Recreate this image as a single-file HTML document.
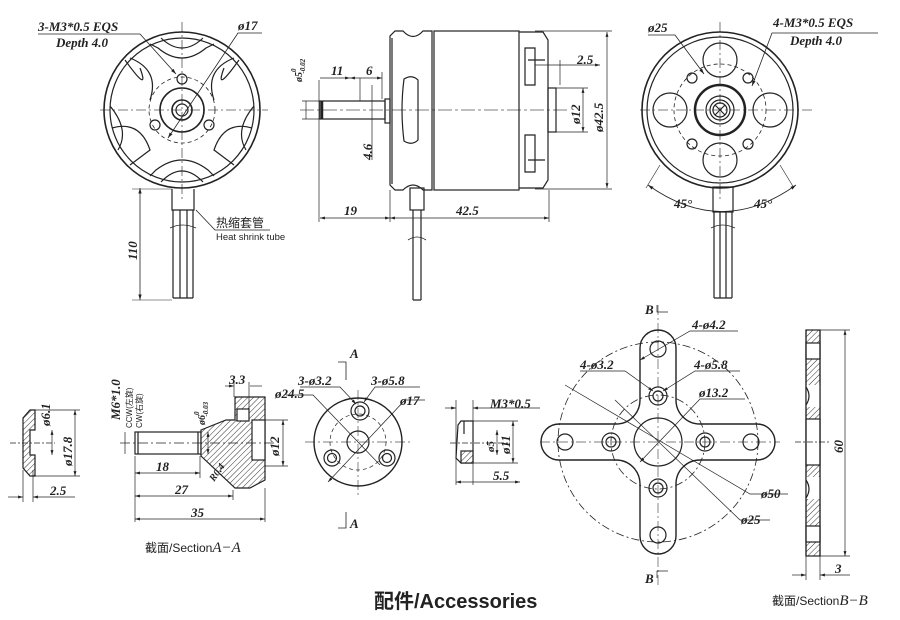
<!DOCTYPE html>
<html><head><meta charset="utf-8"><style>
html,body{margin:0;padding:0;background:#fff}
svg{display:block}
text{font-family:"Liberation Serif",serif;font-style:italic;font-size:13px;font-weight:bold;fill:#222}
.s{font-family:"Liberation Sans","Noto Sans CJK SC",sans-serif;font-style:normal;font-weight:normal}
</style></head><body>
<svg width="900" height="620" viewBox="0 0 900 620" xmlns="http://www.w3.org/2000/svg">
<defs>
<pattern id="h" width="4" height="4" patternUnits="userSpaceOnUse" patternTransform="rotate(45)">
<rect width="4" height="4" fill="#fff"/><line x1="0" y1="0" x2="0" y2="4" stroke="#333" stroke-width="1"/></pattern>
<marker id="a" viewBox="0 0 10 10" refX="10" refY="5" markerWidth="7" markerHeight="7" orient="auto-start-reverse"><path d="M0,2 L10,5 L0,8 z" fill="#222"/></marker>
</defs>
<g fill="none" stroke="#222" stroke-width="1.2">
<!-- LEFT TOP VIEW -->
<g stroke-width="0.8" stroke="#555" stroke-dasharray="10 3 2 3"><line x1="100" y1="110" x2="268" y2="110"/><line x1="182" y1="22" x2="182" y2="200"/></g>
<circle cx="182" cy="110" r="78" stroke-width="1.6"/>
<circle cx="182" cy="110" r="72"/>
<path d="M161 38 Q182 58 203 38 M161 182 Q182 160 203 182 M110 106 Q130 130 118 150 M254 106 Q234 130 246 150 M125 60 Q150 95 140 68 M239 60 Q214 95 224 68"/>
<path d="M150 44 L158 48 Q182 68 206 48 L214 44 M150 176 L156 170 Q182 150 208 170 L214 176"/>
<path d="M112 128 Q140 120 150 150 L130 165 M252 128 Q224 120 214 150 L234 165"/>
<path d="M130 58 Q160 70 150 100 M234 58 Q204 70 214 100"/>
<circle cx="182" cy="110" r="33" stroke-dasharray="4 3" stroke-width="0.8"/>
<circle cx="182" cy="110" r="22" stroke-width="1.6"/>
<circle cx="182" cy="110" r="10" stroke-width="1.6"/>
<circle cx="182" cy="110" r="6"/>
<circle cx="182" cy="79" r="5"/><circle cx="155" cy="125" r="5"/><circle cx="209" cy="125" r="5"/>
<path d="M172 189 L172 210 L194 210 L194 189"/>
<path d="M173 210 V298 M180 210 V298 M187 210 V298 M193 210 V298 M173 298 H193"/>
<path d="M170 228 Q182 222 196 228" stroke-width="0.8"/>
<line x1="140" y1="188" x2="140" y2="300" marker-start="url(#a)" marker-end="url(#a)" stroke-width="0.8"/>
<line x1="132" y1="189" x2="172" y2="189" stroke-width="0.6"/><line x1="132" y1="300" x2="172" y2="300" stroke-width="0.6"/>
<path d="M38 34 H140 L176 74" stroke-width="0.8" marker-end="url(#a)"/>
<path d="M262 33 H238 L168 138" stroke-width="0.8" marker-end="url(#a)"/>
<path d="M196 210 L215 230 H270" stroke-width="0.8"/>
<!-- SIDE VIEW -->
<line x1="300" y1="110" x2="570" y2="110" stroke-width="0.8" stroke="#555" stroke-dasharray="14 3 3 3"/>
<path d="M395 31 H403 Q413 42 423 31 H432 V190 H423 Q413 180 403 190 H395 L390 185 V36 Z"/>
<line x1="392" y1="38" x2="392" y2="184"/>
<rect x="434" y="31" width="85" height="159"/>
<path d="M519 32 H543 L548 40 V180 L543 188 H519"/>
<path d="M525 48 H535 V85 H525 Z M525 135 H535 V172 H525 Z M528 60 H545 M528 160 H545"/>
<rect x="548" y="88" width="8" height="44"/>
<path d="M404 79 Q412 74 418 80 V140 Q412 146 404 141 Q400 110 404 79 Z"/>
<rect x="385" y="99" width="5" height="24"/>
<rect x="320" y="101" width="65" height="18"/>
<line x1="322" y1="101" x2="322" y2="119" stroke-width="2.5"/>
<rect x="410" y="188" width="14" height="22"/>
<path d="M413 210 V300 M421 210 V300 M413 300 H421"/>
<path d="M408 240 Q417 234 426 240" stroke-width="0.8"/>
<g stroke-width="0.7">
<line x1="320" y1="218" x2="390" y2="218" marker-start="url(#a)" marker-end="url(#a)"/>
<line x1="390" y1="218" x2="549" y2="218" marker-start="url(#a)" marker-end="url(#a)"/>
<line x1="319" y1="80" x2="319" y2="222"/><line x1="390" y1="190" x2="390" y2="222"/><line x1="549" y1="190" x2="549" y2="222"/>
<line x1="607" y1="32" x2="607" y2="188" marker-start="url(#a)" marker-end="url(#a)"/>
<line x1="535" y1="31" x2="612" y2="31"/><line x1="535" y1="189" x2="612" y2="189"/>
<line x1="583" y1="88" x2="583" y2="132" marker-start="url(#a)" marker-end="url(#a)"/>
<line x1="556" y1="88" x2="588" y2="88"/><line x1="556" y1="132" x2="588" y2="132"/>
<line x1="535" y1="65" x2="600" y2="65" marker-end="url(#a)"/><line x1="560" y1="60" x2="560" y2="85"/>
<line x1="320" y1="78" x2="350" y2="78" marker-end="url(#a)"/><line x1="350" y1="78" x2="382" y2="78" marker-start="url(#a)" marker-end="url(#a)"/>
<line x1="360" y1="78" x2="360" y2="101"/><line x1="382" y1="72" x2="382" y2="99"/>
<line x1="306" y1="101" x2="306" y2="119"/><line x1="302" y1="101" x2="320" y2="101"/><line x1="302" y1="119" x2="320" y2="119"/>
<line x1="372" y1="85" x2="372" y2="160"/>
</g>
<!-- RIGHT TOP VIEW -->
<g stroke-width="0.8" stroke="#555" stroke-dasharray="10 3 2 3"><line x1="640" y1="110" x2="812" y2="110"/><line x1="720" y1="22" x2="720" y2="200"/></g>
<circle cx="720" cy="110" r="78" stroke-width="1.6"/>
<circle cx="720" cy="110" r="73"/>
<circle cx="720" cy="110" r="46" stroke-dasharray="4 3" stroke-width="0.8"/>
<circle cx="720" cy="60" r="17"/><circle cx="720" cy="160" r="17"/><circle cx="670" cy="110" r="17"/><circle cx="770" cy="110" r="17"/>
<circle cx="720" cy="110" r="25" stroke-width="2.5"/>
<circle cx="720" cy="110" r="14"/><circle cx="720" cy="110" r="10"/><circle cx="720" cy="110" r="7"/>
<path d="M715 105 L725 115 M725 105 L715 115"/>
<circle cx="692" cy="78" r="5"/><circle cx="748" cy="78" r="5"/><circle cx="692" cy="144" r="5"/><circle cx="748" cy="144" r="5"/>
<rect x="713" y="187" width="20" height="25"/>
<path d="M714 212 V298 M720 212 V298 M726 212 V298 M732 212 V298 M714 298 H732"/>
<path d="M711 228 Q722 222 735 228" stroke-width="0.8"/>
<path d="M648 185 Q722 238 796 185" stroke-width="0.8" marker-start="url(#a)" marker-end="url(#a)"/>
<line x1="660" y1="165" x2="646" y2="188" stroke-width="0.6"/><line x1="780" y1="165" x2="794" y2="188" stroke-width="0.6"/>
<path d="M648 35 H675 L704 74" stroke-width="0.8" marker-end="url(#a)"/>
<path d="M878 33 H772 L752 86" stroke-width="0.8" marker-end="url(#a)"/>
<!-- WASHER -->
<path d="M23 418 L30 410 H35 V430 H30 V455 H35 V476 H30 L23 468 Z" fill="url(#h)"/>
<g stroke-width="0.7">
<line x1="10" y1="443" x2="55" y2="443" stroke-dasharray="6 2 2 2"/>
<line x1="52" y1="430" x2="52" y2="455" marker-start="url(#a)" marker-end="url(#a)"/>
<line x1="75" y1="410" x2="75" y2="476" marker-start="url(#a)" marker-end="url(#a)"/>
<line x1="35" y1="410" x2="80" y2="410"/><line x1="35" y1="476" x2="80" y2="476"/>
<line x1="23" y1="470" x2="23" y2="502"/><line x1="33" y1="470" x2="33" y2="502"/>
<line x1="8" y1="497" x2="23" y2="497" marker-end="url(#a)"/><line x1="33" y1="497" x2="75" y2="497" marker-start="url(#a)"/>
</g>
<!-- ADAPTER -->
<rect x="135" y="432" width="66" height="22"/>
<line x1="138" y1="432" x2="138" y2="454"/><line x1="198" y1="432" x2="198" y2="454"/>
<path d="M201 430 L226 420 H235 V397 H265 V480 L250 488 H235 L201 456 Z" fill="url(#h)"/>
<rect x="237" y="409" width="12" height="12" fill="#fff"/>
<rect x="252" y="420" width="13" height="40" fill="#fff"/>
<g stroke-width="0.7">
<line x1="120" y1="443" x2="275" y2="443" stroke-dasharray="10 3 2 3"/>
<line x1="135" y1="456" x2="135" y2="522"/><line x1="265" y1="488" x2="265" y2="522"/><line x1="200" y1="456" x2="200" y2="478"/><line x1="233" y1="490" x2="233" y2="500"/>
<line x1="135" y1="473" x2="200" y2="473" marker-start="url(#a)" marker-end="url(#a)"/>
<line x1="135" y1="496" x2="233" y2="496" marker-start="url(#a)" marker-end="url(#a)"/>
<line x1="135" y1="519" x2="265" y2="519" marker-start="url(#a)" marker-end="url(#a)"/>
<line x1="283" y1="420" x2="283" y2="466" marker-start="url(#a)" marker-end="url(#a)"/>
<line x1="265" y1="420" x2="288" y2="420"/><line x1="265" y1="466" x2="288" y2="466"/>
<line x1="208" y1="432" x2="208" y2="454" marker-start="url(#a)" marker-end="url(#a)"/>
<line x1="125" y1="432" x2="125" y2="454"/>
<line x1="225" y1="386" x2="234" y2="386" marker-end="url(#a)"/><line x1="250" y1="386" x2="262" y2="386"/>
<line x1="234" y1="382" x2="234" y2="397"/><line x1="249" y1="382" x2="249" y2="410"/>
</g>
<!-- HUB DISC -->
<g stroke-width="0.7" stroke="#555" stroke-dasharray="10 3 2 3"><line x1="305" y1="442" x2="410" y2="442"/><line x1="358" y1="390" x2="358" y2="495"/></g>
<circle cx="358" cy="442" r="44" stroke-width="1.4"/>
<circle cx="358" cy="442" r="28" stroke-dasharray="4 3" stroke-width="0.7"/>
<circle cx="358" cy="442" r="11"/>
<circle cx="360" cy="411" r="9"/><circle cx="360" cy="411" r="5"/>
<circle cx="332" cy="458" r="8"/><circle cx="332" cy="458" r="4.5"/>
<circle cx="387" cy="458" r="8"/><circle cx="387" cy="458" r="4.5"/>
<path d="M346 380 V362 H338 M346 512 V528 H338" stroke-width="0.8"/>
<g stroke-width="0.7">
<path d="M286 395 H313 L380 465" /><path d="M300 387 H340 L356 404" marker-end="url(#a)"/><path d="M420 387 H375 L364 402" marker-end="url(#a)"/>
<path d="M425 400 H405 L328 482" marker-end="url(#a)"/>
</g>
<!-- NUT -->
<path d="M458 425 L461 421 H473 V463 H461 L456 458 Z"/>
<rect x="461" y="451" width="12" height="12" fill="url(#h)"/>
<line x1="464" y1="421" x2="464" y2="434"/>
<g stroke-width="0.7">
<line x1="450" y1="443" x2="510" y2="443" stroke-dasharray="6 2 2 2"/>
<line x1="473" y1="421" x2="518" y2="421"/><line x1="473" y1="463" x2="518" y2="463"/>
<line x1="513" y1="421" x2="513" y2="463" marker-start="url(#a)" marker-end="url(#a)"/>
<line x1="497" y1="430" x2="497" y2="455" marker-start="url(#a)" marker-end="url(#a)"/>
<line x1="456" y1="400" x2="456" y2="485"/><line x1="473" y1="400" x2="473" y2="485"/>
<line x1="445" y1="408" x2="456" y2="408" marker-end="url(#a)"/><line x1="473" y1="408" x2="540" y2="408" marker-start="url(#a)"/>
<line x1="456" y1="482" x2="520" y2="482" marker-start="url(#a)" marker-end="url(#a)"/>
</g>
<!-- CROSS PLATE -->
<g stroke-width="0.7" stroke="#555" stroke-dasharray="10 3 2 3"><line x1="540" y1="442" x2="780" y2="442"/><line x1="658" y1="305" x2="658" y2="585"/></g>
<circle cx="658" cy="442" r="100" stroke-dasharray="8 3 2 3" stroke-width="0.8"/>
<circle cx="658" cy="442" r="47" stroke-dasharray="8 3 2 3" stroke-width="0.8"/>
<path d="M640 348 A18 18 0 0 1 676 348 V400 A24 24 0 0 0 700 424 H757 A18 18 0 0 1 757 460 H700 A24 24 0 0 0 676 484 V536 A18 18 0 0 1 640 536 V484 A24 24 0 0 0 616 460 H559 A18 18 0 0 1 559 424 H616 A24 24 0 0 0 640 400 Z" stroke-width="1.4"/>
<circle cx="658" cy="442" r="24"/>
<circle cx="658" cy="349" r="8"/><circle cx="658" cy="535" r="8"/><circle cx="565" cy="442" r="8"/><circle cx="751" cy="442" r="8"/>
<circle cx="658" cy="396" r="9"/><circle cx="658" cy="396" r="5"/><circle cx="658" cy="488" r="9"/><circle cx="658" cy="488" r="5"/>
<circle cx="611" cy="442" r="9"/><circle cx="611" cy="442" r="5"/><circle cx="705" cy="442" r="9"/><circle cx="705" cy="442" r="5"/>
<g stroke-width="0.7">
<path d="M738 331 H690 L640 360" marker-end="url(#a)"/>
<path d="M580 371 H625 L653 391" marker-end="url(#a)"/>
<path d="M740 371 H695 L663 391" marker-end="url(#a)"/>
<path d="M745 399 H700 L640 462" marker-end="url(#a)"/>
<path d="M788 494 H750 L565 385"/><path d="M770 520 H740 L615 400"/>
<path d="M657 305 V312 H668 M657 578 V571 H668"/>
</g>
<!-- SECTION B-B -->
<rect x="806" y="330" width="14" height="226" fill="url(#h)"/>
<rect x="806" y="343" width="14" height="16" fill="#fff"/>
<rect x="806" y="385" width="14" height="22" fill="#fff" stroke="none"/><path d="M806 387 Q812 396 806 405"/>
<rect x="806" y="419" width="14" height="46" fill="#fff"/>
<rect x="806" y="477" width="14" height="22" fill="#fff" stroke="none"/><path d="M806 480 Q812 489 806 498"/>
<rect x="806" y="526" width="14" height="16" fill="#fff"/>
<line x1="806" y1="330" x2="806" y2="556"/><line x1="820" y1="330" x2="820" y2="556"/>
<g stroke-width="0.7">
<line x1="795" y1="442" x2="830" y2="442" stroke-dasharray="6 2 2 2"/>
<line x1="820" y1="330" x2="850" y2="330"/><line x1="820" y1="556" x2="850" y2="556"/>
<line x1="845" y1="330" x2="845" y2="556" marker-start="url(#a)" marker-end="url(#a)"/>
<line x1="806" y1="556" x2="806" y2="580"/><line x1="820" y1="556" x2="820" y2="580"/>
<line x1="792" y1="575" x2="806" y2="575" marker-end="url(#a)"/><line x1="820" y1="575" x2="850" y2="575" marker-start="url(#a)"/>
</g>
</g>
<!-- TEXT -->
<text x="38" y="31">3-M3*0.5  EQS</text>
<text x="56" y="47">Depth  4.0</text>
<text x="238" y="30">ø17</text>
<text x="216" y="227" class="s" style="font-size:12px">热缩套管</text>
<text x="216" y="240" class="s" style="font-size:9.5px">Heat shrink tube</text>
<text transform="translate(137,260) rotate(-90)">110</text>
<text transform="translate(302,82) rotate(-90)" style="font-size:10px">ø5<tspan dy="-6" style="font-size:7px">0</tspan><tspan dx="-5" dy="9" style="font-size:7px">-0.02</tspan></text>
<text x="331" y="75">11</text><text x="366" y="75">6</text>
<text transform="translate(372,160) rotate(-90)">4.6</text>
<text x="344" y="215">19</text><text x="456" y="215">42.5</text>
<text x="577" y="64">2.5</text>
<text transform="translate(580,124) rotate(-90)">ø12</text>
<text transform="translate(603,132) rotate(-90)">ø42.5</text>
<text x="648" y="32">ø25</text>
<text x="773" y="27">4-M3*0.5  EQS</text>
<text x="790" y="45">Depth  4.0</text>
<text x="674" y="208">45°</text><text x="754" y="208">45°</text>
<text transform="translate(50,426) rotate(-90)">ø6.1</text>
<text transform="translate(72,466) rotate(-90)">ø17.8</text>
<text x="50" y="495">2.5</text>
<text transform="translate(120,420) rotate(-90)">M6*1.0</text>
<text transform="translate(132,428) rotate(-90)" class="s" style="font-size:8px">CCW(左旋)</text>
<text transform="translate(142,428) rotate(-90)" class="s" style="font-size:8px">CW(右旋)</text>
<text transform="translate(205,425) rotate(-90)" style="font-size:10px">ø6<tspan dy="-6" style="font-size:7px">0</tspan><tspan dx="-5" dy="9" style="font-size:7px">-0.03</tspan></text>
<text x="229" y="384">3.3</text>
<text x="275" y="398">ø24.5</text>
<text transform="translate(279,456) rotate(-90)">ø12</text>
<text transform="translate(214,482) rotate(-55)" style="font-size:10px">R0.4</text>
<text x="156" y="471">18</text><text x="175" y="494">27</text><text x="191" y="517">35</text>
<text x="145" y="552" class="s" style="font-size:12px">截面/Section<tspan style="font-family:'Liberation Serif',serif;font-style:italic;font-size:15px">A−A</tspan></text>
<text x="350" y="358">A</text><text x="350" y="528">A</text>
<text x="298" y="385">3-ø3.2</text><text x="371" y="385">3-ø5.8</text>
<text x="400" y="405">ø17</text>
<text x="490" y="408">M3*0.5</text>
<text transform="translate(494,452) rotate(-90)" style="font-size:11px">ø5</text>
<text transform="translate(510,454) rotate(-90)">ø11</text>
<text x="493" y="480">5.5</text>
<text x="645" y="314">B</text><text x="645" y="583">B</text>
<text x="692" y="329">4-ø4.2</text>
<text x="580" y="369">4-ø3.2</text><text x="694" y="369">4-ø5.8</text>
<text x="699" y="397">ø13.2</text>
<text x="761" y="498">ø50</text><text x="741" y="524">ø25</text>
<text transform="translate(843,453) rotate(-90)">60</text>
<text x="835" y="573">3</text>
<text x="772" y="605" class="s" style="font-size:12px">截面/Section<tspan style="font-family:'Liberation Serif',serif;font-style:italic;font-size:15px">B−B</tspan></text>
<text x="374" y="608" class="s" style="font-size:20px;font-weight:bold">配件/Accessories</text>
</svg>
</body></html>
